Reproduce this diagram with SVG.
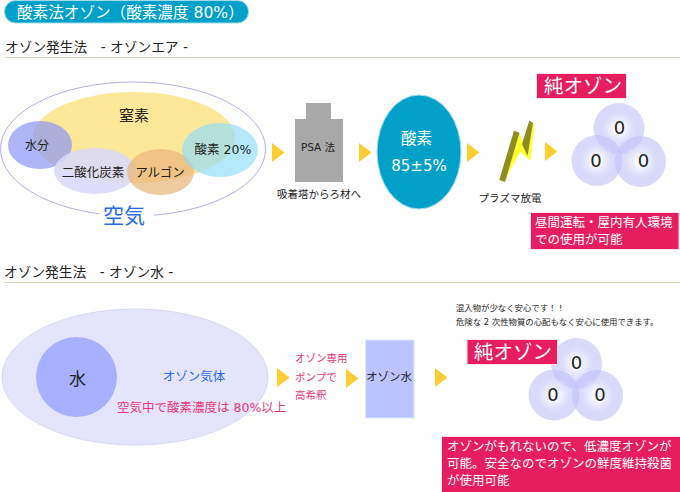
<svg xmlns="http://www.w3.org/2000/svg" width="680" height="492" viewBox="0 0 680 492">
<defs>
<radialGradient id="atom"><stop offset="0" stop-color="#ffffff"/><stop offset="0.15" stop-color="#fdfdff"/><stop offset="0.7" stop-color="#c3c3fa" stop-opacity=".63"/><stop offset="1" stop-color="#c3c3fa" stop-opacity=".63"/></radialGradient>
<polygon id="next" points="0,0 12.500,9.500 0,19" fill="#ffcc33"/>
</defs>
<style>
text{font-family:"DejaVu Sans","Noto Sans CJK JP",sans-serif;fill:#222}
.m{text-anchor:middle}
.w{fill:#fff}
.pink{fill:#e8397a}
.blue{fill:#2a6af0}
.head{font-size:13.700px}
.label{fill:#e61e5f;stroke:#fbe3ea;stroke-width:1}
.atom{fill:url(#atom)}
.atomtext{font-size:18px;text-anchor:middle}
</style>
<rect width="680" height="492" fill="#fff"/>

<g id="title">
<rect x="4.500" y="0.500" width="244" height="22.500" rx="11" fill="#00a0c8" stroke="#9fdcec"/>
<text x="17" y="18" font-size="15.600" class="w">酸素法オゾン（酸素濃度 80%）</text>
</g>

<g id="heading-air">
<text x="5" y="52" class="head">オゾン発生法　- オゾンエア -</text>
<line x1="5" y1="57.500" x2="680" y2="57.500" stroke="#d5dcc0"/>
</g>

<g id="air">
<ellipse cx="133" cy="149" rx="132.500" ry="67" fill="#fff" stroke="#b0b0e4"/>
<ellipse id="nitrogen" cx="134" cy="137.500" rx="101" ry="45.500" fill="#fde89a"/>
<ellipse id="water-vapour" cx="40" cy="145" rx="32" ry="24" fill="#8c96f5" fill-opacity=".7"/>
<ellipse id="co2" cx="95" cy="171" rx="41" ry="23" fill="#d8d8fb" fill-opacity=".85"/>
<ellipse id="argon" cx="160.500" cy="172" rx="33.500" ry="23" fill="#e8b57a" fill-opacity=".7"/>
<ellipse id="oxygen-20" cx="220" cy="150" rx="38" ry="27" fill="#8fdcfa" fill-opacity=".65"/>
<text x="134" y="121" font-size="15" class="m">窒素</text>
<text x="37" y="150" font-size="12" class="m">水分</text>
<text x="93" y="177" font-size="12.500" class="m">二酸化炭素</text>
<text x="160" y="177" font-size="12.500" class="m">アルゴン</text>
<text x="223" y="154" font-size="12.500" class="m">酸素 20%</text>
<rect x="99" y="205" width="55" height="22" fill="#fff"/>
<text x="124" y="223" font-size="21" class="m blue">空気</text>
</g>

<g id="psa">
<rect x="306" y="103" width="25" height="16" fill="#a8a8a8"/>
<rect x="295" y="119" width="48" height="63" fill="#a8a8a8"/>
<text x="318" y="151" font-size="10.500" class="m">PSA 法</text>
<text x="319" y="198" font-size="10.500" class="m">吸着塔からろ材へ</text>
</g>

<g id="oxygen">
<ellipse cx="419" cy="152" rx="42" ry="57" fill="#00a0c8" stroke="#a5e0f0"/>
<text x="416.500" y="144" font-size="15.500" class="m w">酸素</text>
<text x="419" y="171" font-size="15" class="m w">85±5%</text>
</g>

<g id="discharge">
<polygon points="503.500,182 519,132.500 524,144 534.500,122 530.500,161 520.500,152" fill="#ffff33"/>
<polygon points="514,130.700 519.500,132.700 505,182 499.300,180" fill="#8e8e1e"/>
<polygon points="529.300,120.700 533,122.700 527.500,156 522,144" fill="#8e8e1e"/>
<text x="510" y="202" font-size="10.500" class="m">プラズマ放電</text>
</g>

<g id="pure-ozone-air">
<circle class="atom" cx="619" cy="128.500" r="25.500"/>
<circle class="atom" cx="597" cy="160.500" r="25.500"/>
<circle class="atom" cx="640.500" cy="161.500" r="25.500"/>
<text x="619.500" y="134" class="atomtext">0</text>
<text x="596" y="167" class="atomtext">0</text>
<text x="643.500" y="167" class="atomtext">0</text>
<rect class="label" x="536.500" y="73.500" width="90" height="25"/>
<text x="583" y="93" font-size="19.500" class="m w">純オゾン</text>
</g>

<g id="note-air">
<rect class="label" x="530.500" y="212.500" width="148.500" height="37"/>
<text x="535" y="227" font-size="12.500" class="w">昼間運転・屋内有人環境</text>
<text x="535" y="244" font-size="12.500" class="w">での使用が可能</text>
</g>

<g id="heading-water">
<text x="4" y="277" class="head">オゾン発生法　- オゾン水 -</text>
<line x1="4" y1="282.500" x2="680" y2="282.500" stroke="#d5dcc0"/>
</g>

<g id="ozone-gas">
<ellipse cx="135" cy="377" rx="133" ry="68" fill="#e4e4fc" stroke="#d8d8f2"/>
<ellipse cx="76.500" cy="377" rx="40.500" ry="40" fill="#a6b1ff"/>
<text x="77.500" y="385" font-size="17" class="m">水</text>
<text x="194" y="381" font-size="12.500" class="m blue">オゾン気体</text>
<text x="117" y="412" font-size="12.500" class="pink">空気中で酸素濃度は 80%以上</text>
</g>

<g id="pump">
<text x="295" y="362" font-size="10.500" class="pink">オゾン専用</text>
<text x="295" y="381" font-size="10.500" class="pink">ポンプで</text>
<text x="295" y="399" font-size="10.500" class="pink">高希釈</text>
</g>

<g id="ozone-water">
<rect x="365.500" y="340" width="48.500" height="78" fill="#bcc4ff" stroke="#dce8ff"/>
<text x="389" y="381" font-size="11.500" class="m">オゾン水</text>
</g>

<g id="remark">
<text x="456" y="311" font-size="8.400">混入物が少なく安心です！！</text>
<text x="456" y="325" font-size="8.400">危険な 2 次性物質の心配もなく安心に使用できます。</text>
</g>

<g id="pure-ozone-water">
<circle class="atom" cx="576.500" cy="363.500" r="25.500"/>
<circle class="atom" cx="554" cy="395" r="25.500"/>
<circle class="atom" cx="597.500" cy="395.500" r="25.500"/>
<text x="576.500" y="369" class="atomtext">0</text>
<text x="553" y="401" class="atomtext">0</text>
<text x="600" y="401" class="atomtext">0</text>
<rect class="label" x="467" y="339.500" width="90.500" height="25"/>
<text x="513" y="359" font-size="19.500" class="m w">純オゾン</text>
</g>

<g id="note-water">
<rect class="label" x="441.500" y="436.500" width="239" height="56"/>
<text x="447" y="451" font-size="12.500" class="w">オゾンがもれないので、低濃度オゾンが</text>
<text x="447" y="468" font-size="12.500" class="w">可能。安全なのでオゾンの鮮度維持殺菌</text>
<text x="447" y="485" font-size="12.500" class="w">が使用可能</text>
</g>

<g id="connectors">
<use href="#next" x="272" y="143"/>
<use href="#next" x="359" y="143"/>
<use href="#next" x="467" y="143"/>
<use href="#next" x="545" y="142"/>
<use href="#next" x="277" y="368"/>
<use href="#next" x="346" y="369"/>
<use href="#next" x="435" y="368"/>
</g>
</svg>
